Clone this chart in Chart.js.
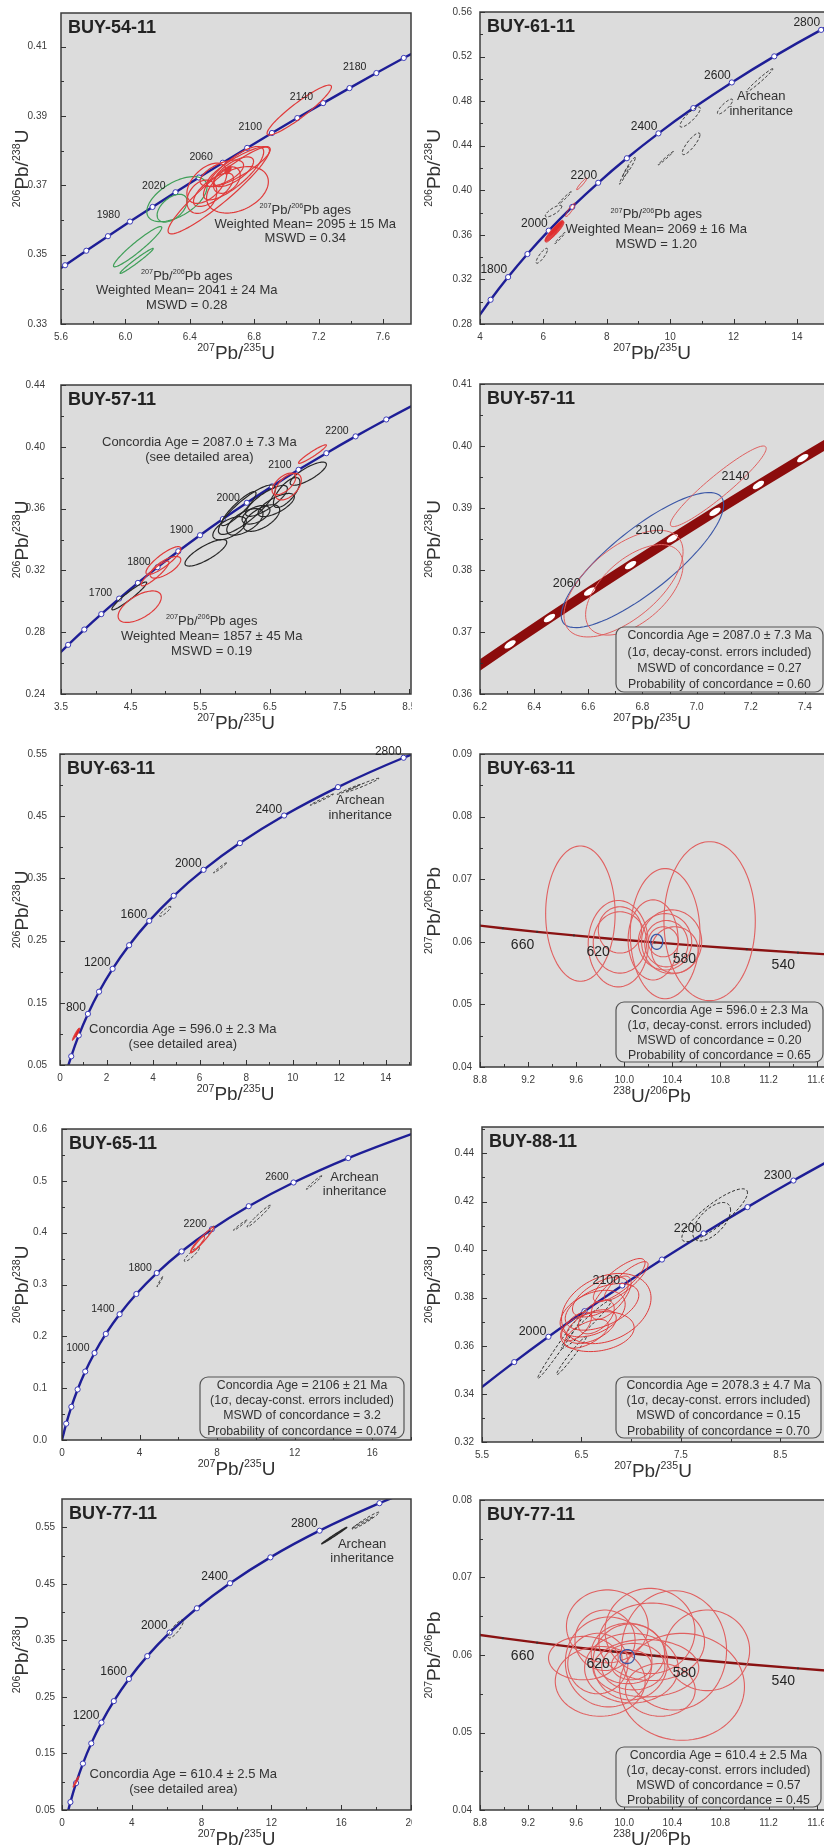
<!DOCTYPE html>
<html>
<head>
<meta charset="utf-8">
<title>U-Pb concordia diagrams</title>
<script src="https://cdn.jsdelivr.net/npm/chart.js@4.4.1/dist/chart.umd.min.js"></script>
<style>
  html, body { margin: 0; padding: 0; background: #fff; }
  body { position: relative; width: 824px; height: 1847px; overflow: hidden; }
  canvas { position: absolute; }
</style>
</head>
<body>
<script>
// concordia marker ages (Ma) and the ratios
const ages20 = [1900, 1920, 1940, 1960, 1980, 2000, 2020, 2040, 2060, 2080, 2100, 2120, 2140, 2160, 2180, 2200, 2220];
const x20 = [5.4962, 5.6254, 5.7572, 5.8916, 6.0287, 6.1685, 6.3111, 6.4566, 6.6049, 6.7562, 6.9104, 7.0678, 7.2283, 7.3920, 7.5589, 7.7291, 7.9028];
const y20 = [0.34277, 0.34695, 0.35113, 0.35533, 0.35954, 0.36376, 0.36800, 0.37225, 0.37652, 0.38079, 0.38509, 0.38939, 0.39371, 0.39804, 0.40238, 0.40674, 0.41111];

const ages50 = [1500, 1550, 1600, 1650, 1700, 1750, 1800, 1850, 1900, 1950, 2000, 2050, 2100, 2150, 2200, 2250, 2300, 2350];
const x50 = [3.3810, 3.6021, 3.8344, 4.0784, 4.3348, 4.6040, 4.8869, 5.1840, 5.4962, 5.8241, 6.1685, 6.5304, 6.9104, 7.3097, 7.7292, 8.1698, 8.6326, 9.1188];
const y50 = [0.26199, 0.27181, 0.28172, 0.29170, 0.30175, 0.31189, 0.32210, 0.33240, 0.34277, 0.35323, 0.36376, 0.37438, 0.38509, 0.39587, 0.40674, 0.41769, 0.42873, 0.43986];

const ages100 = [1600, 1700, 1800, 1900, 2000, 2100, 2200, 2300, 2400, 2500, 2600, 2700, 2800, 2900];
const x100 = [3.8344, 4.3348, 4.8869, 5.4962, 6.1685, 6.9104, 7.7292, 8.6326, 9.6296, 10.7297, 11.9437, 13.2834, 14.7617, 16.3930];
const y100 = [0.28172, 0.30175, 0.32210, 0.34277, 0.36376, 0.38509, 0.40674, 0.42873, 0.45107, 0.47375, 0.49679, 0.52019, 0.54395, 0.56809];

const ages200 = [0, 200, 400, 600, 800, 1000, 1200, 1400, 1600, 1800, 2000, 2200, 2400, 2600, 2800, 3000, 3100];
const x200 = [0, 0.2177, 0.4828, 0.8056, 1.1987, 1.6774, 2.2603, 2.9701, 3.8344, 4.8869, 6.1685, 7.7292, 9.6296, 11.9437, 14.7617, 18.1931, 20.1795];
const y200 = [0, 0.03151, 0.06402, 0.09754, 0.13213, 0.16781, 0.20460, 0.24256, 0.28172, 0.32210, 0.36376, 0.40674, 0.45107, 0.49679, 0.54395, 0.59260, 0.61750];

// Tera-Wasserburg concordia (238U/206Pb vs 207Pb/206Pb)
const agesTW = [720, 700, 680, 660, 640, 620, 600, 580, 560, 540, 520, 500];
const xTW = [8.4627, 8.7183, 8.9889, 9.2758, 9.5808, 9.9055, 10.2518, 10.6220, 11.0187, 11.4448, 11.9036, 12.3993];
const yTW = [0.063350, 0.062757, 0.062171, 0.061593, 0.061022, 0.060458, 0.059901, 0.059351, 0.058808, 0.058272, 0.057742, 0.057219];

// error ellipses: [centre x, centre y, half width x, half height y, rho]
const p1Green = [[6.32, 0.3660, 0.187, 0.0065, 0.55], [6.29, 0.3634, 0.093, 0.0040, 0.5], [6.076, 0.3523, 0.150, 0.0058, 0.95], [6.07, 0.3482, 0.103, 0.0036, 0.98]];
const p1Red = [[6.696, 0.3687, 0.192, 0.0067, 0.35], [7.08, 0.3917, 0.20, 0.0072, 0.93], [6.58, 0.3685, 0.315, 0.0125, 0.93],
  [6.506, 0.3706, 0.124, 0.0058, 0.5], [6.599, 0.3735, 0.135, 0.0038, 0.6], [6.63, 0.3715, 0.083, 0.0038, 0.4],
  [6.672, 0.3735, 0.187, 0.0077, 0.8], [6.475, 0.3667, 0.093, 0.0048, 0.3], [6.703, 0.3754, 0.197, 0.0058, 0.85],
  [6.547, 0.3687, 0.124, 0.0048, 0.7], [6.672, 0.3739, 0.124, 0.0043, 0.7]];
const p1RedFill = [[6.637, 0.3744, 0.02, 0.0012, 0.5]];

const p2Red = [[7.21, 0.4057, 0.16, 0.0052, 0.95], [6.85, 0.3824, 0.15, 0.0060, 0.9], [6.24, 0.3594, 0.18, 0.0060, 0.85]];
const p2RedFill = [[6.35, 0.3631, 0.30, 0.0090, 0.9], [6.40, 0.3660, 0.22, 0.0070, 0.92]];
const p2Dash = [[6.32, 0.3813, 0.26, 0.0052, 0.8], [6.68, 0.3932, 0.20, 0.0055, 0.98], [6.52, 0.3571, 0.16, 0.0050, 0.98],
  [5.95, 0.3412, 0.18, 0.0067, 0.85], [8.70, 0.4205, 0.20, 0.0090, 0.95], [8.55, 0.4135, 0.15, 0.0080, 0.97],
  [9.86, 0.4288, 0.24, 0.0060, 0.99], [10.66, 0.4417, 0.28, 0.0097, 0.85], [10.63, 0.4657, 0.32, 0.0090, 0.85],
  [11.73, 0.4751, 0.24, 0.0067, 0.85], [12.82, 0.4986, 0.42, 0.0105, 0.98]];

const p3Black = [[4.48, 0.3035, 0.25, 0.0090, 0.95], [5.58, 0.3314, 0.30, 0.0086, 0.8], [6.17, 0.3593, 0.41, 0.0160, 0.85],
  [6.14, 0.3514, 0.26, 0.0086, 0.6], [6.38, 0.3539, 0.26, 0.0086, 0.6], [6.59, 0.3623, 0.26, 0.0075, 0.7],
  [5.92, 0.3473, 0.24, 0.0075, 0.6], [6.74, 0.3704, 0.19, 0.0097, 0.7], [7.05, 0.3826, 0.26, 0.0075, 0.8],
  [6.30, 0.3560, 0.20, 0.0060, 0.5], [6.05, 0.3600, 0.25, 0.0110, 0.9], [6.45, 0.3650, 0.30, 0.0100, 0.8]];
const p3Red = [[7.11, 0.3953, 0.20, 0.0060, 0.95], [6.76, 0.3742, 0.19, 0.0086, 0.5], [6.70, 0.3760, 0.17, 0.0070, 0.6],
  [4.97, 0.3264, 0.25, 0.0090, 0.85], [5.00, 0.3220, 0.22, 0.0070, 0.7], [4.85, 0.3180, 0.20, 0.0080, 0.9],
  [4.63, 0.2965, 0.31, 0.0102, 0.6]];

const p4Blue = [[6.80, 0.3816, 0.30, 0.0109, 0.82]];
const p4Red = [[7.08, 0.3935, 0.177, 0.0065, 0.94], [6.73, 0.3778, 0.22, 0.0086, 0.6], [6.77, 0.3768, 0.18, 0.0073, 0.55]];

const p5RedFill = [[0.68, 0.0995, 0.15, 0.0100, 0.95], [0.75, 0.1020, 0.10, 0.0070, 0.9]];
const p5Dash = [[6.88, 0.367, 0.28, 0.0082, 0.98], [4.52, 0.297, 0.24, 0.0080, 0.9], [13.0, 0.500, 0.7, 0.011, 0.98],
  [11.25, 0.4767, 0.5, 0.009, 0.99], [12.4, 0.493, 0.5, 0.008, 0.99]];

const p6Red = [[9.635, 0.0645, 0.289, 0.0108, 0], [10.71, 0.0633, 0.38, 0.0127, 0], [10.34, 0.0613, 0.29, 0.0104, 0],
  [9.95, 0.0597, 0.25, 0.0069, 0], [9.964, 0.0599, 0.222, 0.0049, 0], [10.339, 0.0600, 0.222, 0.0045, 0],
  [10.35, 0.0597, 0.18, 0.0037, 0], [10.325, 0.0600, 0.125, 0.0024, 0], [10.394, 0.0600, 0.25, 0.0051, 0],
  [10.24, 0.0603, 0.208, 0.0064, 0], [10.42, 0.0587, 0.194, 0.0037, 0], [9.964, 0.0619, 0.18, 0.0037, 0]];
const p6Blue = [[10.27, 0.0600, 0.05, 0.0012, 0]];

const p7Red = [[7.23, 0.386, 0.6, 0.025, 0.97], [7.0, 0.378, 0.35, 0.015, 0.9]];
const p7Dash = [[6.7, 0.3585, 0.39, 0.014, 0.9], [5.05, 0.3055, 0.15, 0.010, 0.98], [9.2, 0.4145, 0.35, 0.010, 0.98],
  [10.15, 0.432, 0.6, 0.021, 0.98], [13.0, 0.4968, 0.4, 0.013, 0.98], [7.7, 0.405, 0.15, 0.008, 0.95]];

const p8Red = [[6.75, 0.3755, 0.45, 0.0146, 0.3], [6.88, 0.3873, 0.26, 0.0090, 0.8], [6.66, 0.3659, 0.37, 0.0083, 0.2],
  [6.613, 0.3734, 0.327, 0.0097, 0.4], [6.707, 0.3762, 0.37, 0.0097, 0.5], [6.69, 0.3803, 0.28, 0.0083, 0.6],
  [6.60, 0.3680, 0.25, 0.0070, 0.5], [6.80, 0.3800, 0.20, 0.0090, 0.7], [6.55, 0.3650, 0.22, 0.0060, 0.6],
  [6.65, 0.3720, 0.18, 0.0070, 0.5], [6.95, 0.3870, 0.22, 0.0080, 0.85], [6.45, 0.3680, 0.15, 0.0060, 0.6]];
const p8Dash = [[6.30, 0.3606, 0.24, 0.0142, 0.99], [6.55, 0.3690, 0.25, 0.0100, 0.97], [7.84, 0.4143, 0.33, 0.0110, 0.85],
  [7.81, 0.4116, 0.19, 0.0080, 0.6], [6.40, 0.3560, 0.15, 0.0080, 0.98]];

const p9RedFill = [[0.8, 0.100, 0.17, 0.010, 0.95]];
const p9Dash = [[6.52, 0.370, 0.43, 0.016, 0.85], [17.4, 0.5617, 0.77, 0.015, 0.97], [17.2, 0.558, 0.6, 0.010, 0.99]];
const p9Solid = [[15.6, 0.5353, 0.72, 0.0146, 0.995]];

const p10Red = [[9.859, 0.0637, 0.34, 0.0047, 0], [10.214, 0.0631, 0.374, 0.0055, 0], [10.414, 0.0606, 0.437, 0.0077, 0],
  [10.69, 0.0606, 0.353, 0.0052, 0], [10.48, 0.0559, 0.52, 0.0069, 0], [9.66, 0.0596, 0.29, 0.0028, 0],
  [9.80, 0.0566, 0.374, 0.0045, 0], [9.87, 0.0591, 0.36, 0.0058, 0], [10.06, 0.0583, 0.39, 0.0045, 0],
  [10.05, 0.0591, 0.31, 0.0049, 0], [10.18, 0.0583, 0.44, 0.0037, 0], [10.075, 0.0585, 0.263, 0.0030, 0],
  [10.06, 0.0587, 0.166, 0.0019, 0], [9.84, 0.0619, 0.25, 0.0039, 0], [10.03, 0.0602, 0.305, 0.0039, 0],
  [9.78, 0.0589, 0.25, 0.0039, 0], [10.228, 0.0617, 0.44, 0.0050, 0], [10.30, 0.0555, 0.29, 0.0034, 0]];
const p10Blue = [[10.025, 0.0598, 0.06, 0.0009, 0]];

// tick labels
const p1XTicks = [5.6, 6.0, 6.4, 6.8, 7.2, 7.6], p1YTicks = [0.33, 0.35, 0.37, 0.39, 0.41];
const p2XTicks = [4, 6, 8, 10, 12, 14], p2YTicks = [0.28, 0.32, 0.36, 0.40, 0.44, 0.48, 0.52, 0.56];
const p3XTicks = [3.5, 4.5, 5.5, 6.5, 7.5, 8.5], p3YTicks = [0.24, 0.28, 0.32, 0.36, 0.40, 0.44];
const p4XTicks = [6.2, 6.4, 6.6, 6.8, 7.0, 7.2, 7.4], p4YTicks = [0.36, 0.37, 0.38, 0.39, 0.40, 0.41];
const p5XTicks = [0, 2, 4, 6, 8, 10, 12, 14], p5YTicks = [0.05, 0.15, 0.25, 0.35, 0.45, 0.55];
const twXTicks = [8.8, 9.2, 9.6, 10.0, 10.4, 10.8, 11.2, 11.6];
const p6YTicks = [0.04, 0.05, 0.06, 0.07, 0.08, 0.09];
const p7XTicks = [0, 4, 8, 12, 16], p7YTicks = [0.0, 0.1, 0.2, 0.3, 0.4, 0.5, 0.6];
const p8XTicks = [5.5, 6.5, 7.5, 8.5], p8YTicks = [0.32, 0.34, 0.36, 0.38, 0.40, 0.42, 0.44];
const p9XTicks = [0, 4, 8, 12, 16, 20], p9YTicks = [0.05, 0.15, 0.25, 0.35, 0.45, 0.55];
const p10YTicks = [0.04, 0.05, 0.06, 0.07, 0.08];

const FONT = '"Liberation Sans", Arial, Helvetica, sans-serif';
const BG = '#dcdcdc';
const RED = '#e03a3a', PINK = '#e06060', GREEN = '#3f9f58', DARK = '#262626', BLUE = '#3a56a6';
const WET_X = '{207}Pb/{235}U', WET_Y = '{206}Pb/{238}U', TW_X = '{238}U/{206}Pb', TW_Y = '{207}Pb/{206}Pb';
const BOX2 = '(1\u03c3, decay-const. errors included)';

const panels = [
  { left: 0, top: 0, w: 412, plot: [61, 13, 411, 324], x: [5.6, 7.774], y: [0.33, 0.4197],
    xt: p1XTicks, yt: p1YTicks, xd: 1, yd: 2, ypad: 14, title: 'BUY-54-11', xTitle: WET_X, yTitle: WET_Y,
    curve: { ages: ages20, x: x20, y: y20, kind: 'blue', show: [1920, 2200],
      labels: [1980, 2020, 2060, 2100, 2140, 2180], size: 10.5, dx: -10, dy: -6 },
    ells: [{ d: p1Green, c: GREEN, w: 1.2 }, { d: p1Red, c: RED, w: 1.2 }, { d: p1RedFill, c: RED, fill: RED }],
    texts: [
      { x: 7.117, y: 0.3629, s: '{207}Pb/{206}Pb ages' }, { x: 7.117, y: 0.3588, s: 'Weighted Mean= 2095 \u00b1 15 Ma' },
      { x: 7.117, y: 0.3547, s: 'MSWD = 0.34' }, { x: 6.381, y: 0.3438, s: '{207}Pb/{206}Pb ages' },
      { x: 6.381, y: 0.3396, s: 'Weighted Mean= 2041 \u00b1 24 Ma' }, { x: 6.381, y: 0.3355, s: 'MSWD = 0.28' }] },
  { left: 412, top: 0, w: 420, plot: [68, 12, 420, 324], x: [4, 15.105], y: [0.28, 0.56],
    xt: p2XTicks, yt: p2YTicks, xd: 0, yd: 2, ypad: 8, title: 'BUY-61-11', xTitle: WET_X, yTitle: WET_Y,
    curve: { ages: ages100, x: x100, y: y100, kind: 'blue', show: [1700, 2800],
      labels: [1800, 2000, 2200, 2400, 2600, 2800], size: 12, dx: -1, dy: -7 },
    ells: [{ d: p2Dash, c: DARK, dash: true }, { d: p2Red, c: RED }, { d: p2RedFill, c: RED, fill: 'rgba(225,40,40,0.85)' }],
    texts: [
      { x: 12.874, y: 0.4843, s: 'Archean' }, { x: 12.874, y: 0.4708, s: 'inheritance' },
      { x: 9.56, y: 0.3779, s: '{207}Pb/{206}Pb ages' }, { x: 9.56, y: 0.3645, s: 'Weighted Mean= 2069 \u00b1 16 Ma' },
      { x: 9.56, y: 0.3510, s: 'MSWD = 1.20' }] },
  { left: 0, top: 370, w: 412, plot: [61, 15, 411, 324], x: [3.5, 8.525], y: [0.24, 0.44],
    xt: p3XTicks, yt: p3YTicks, xd: 1, yd: 2, ypad: 16, title: 'BUY-57-11', xTitle: WET_X, yTitle: WET_Y,
    curve: { ages: ages50, x: x50, y: y50, kind: 'blue', show: [1550, 2250],
      labels: [1700, 1800, 1900, 2000, 2100, 2200], size: 10.5, dx: -7, dy: -5 },
    ells: [{ d: p3Black, c: DARK, w: 1.2 }, { d: p3Red, c: RED, w: 1.2 }],
    texts: [
      { x: 5.486, y: 0.4027, s: 'Concordia Age = 2087.0 \u00b1 7.3 Ma' }, { x: 5.486, y: 0.3932, s: '(see detailed area)' },
      { x: 5.663, y: 0.2868, s: '{207}Pb/{206}Pb ages' }, { x: 5.663, y: 0.2771, s: 'Weighted Mean= 1857 \u00b1 45 Ma' },
      { x: 5.663, y: 0.2678, s: 'MSWD = 0.19' }] },
  { left: 412, top: 370, w: 420, plot: [68, 14, 420, 324], x: [6.2, 7.5], y: [0.36, 0.41],
    xt: p4XTicks, yt: p4YTicks, xd: 1, yd: 2, ypad: 8, title: 'BUY-57-11', xTitle: WET_X, yTitle: WET_Y,
    curve: { ages: ages20, x: x20, y: y20, kind: 'band', show: [2020, 2160],
      labels: [2060, 2100, 2140], size: 12.5, dx: -9, dy: -8 },
    ells: [{ d: p4Blue, c: BLUE, w: 1.1 }, { d: p4Red, c: PINK, w: 1 }],
    texts: [],
    box: { l: 204, t: 257, w: 207, h: 65, lines: ['Concordia Age = 2087.0 \u00b1 7.3 Ma', BOX2, 'MSWD of concordance = 0.27', 'Probability of concordance = 0.60'] } },
  { left: 0, top: 740, w: 412, plot: [60, 14, 411, 325], x: [0, 15.08], y: [0.05, 0.55],
    xt: p5XTicks, yt: p5YTicks, xd: 0, yd: 2, ypad: 13, title: 'BUY-63-11', xTitle: WET_X, yTitle: WET_Y,
    curve: { ages: ages200, x: x200, y: y200, kind: 'blue', show: [400, 2800],
      labels: [800, 1200, 1600, 2000, 2400, 2800], size: 12, dx: -2, dy: -6 },
    ells: [{ d: p5Dash, c: DARK, dash: true }, { d: p5RedFill, c: RED, fill: 'rgba(225,30,30,0.9)' }],
    texts: [
      { x: 5.276, y: 0.1065, s: 'Concordia Age = 596.0 \u00b1 2.3 Ma' }, { x: 5.276, y: 0.0823, s: '(see detailed area)' },
      { x: 12.9, y: 0.4747, s: 'Archean' }, { x: 12.9, y: 0.4516, s: 'inheritance' }] },
  { left: 412, top: 740, w: 420, plot: [68, 14, 420, 327], x: [8.8, 11.728], y: [0.04, 0.09],
    xt: twXTicks, yt: p6YTicks, xd: 1, yd: 2, ypad: 8, title: 'BUY-63-11', xTitle: TW_X, yTitle: TW_Y,
    curve: { ages: agesTW, x: xTW, y: yTW, kind: 'tw', show: [540, 680],
      labels: [660, 620, 580, 540], size: 14, dx: -3, dy: 13 },
    ells: [{ d: p6Red, c: PINK, w: 1.1 }, { d: p6Blue, c: BLUE, w: 1.3 }],
    texts: [],
    box: { l: 204, t: 262, w: 207, h: 60, lines: ['Concordia Age = 596.0 \u00b1 2.3 Ma', BOX2, 'MSWD of concordance = 0.20', 'Probability of concordance = 0.65'] } },
  { left: 0, top: 1110, w: 412, plot: [62, 19, 411, 330], x: [0, 18], y: [0, 0.6],
    xt: p7XTicks, yt: p7YTicks, xd: 0, yd: 1, ypad: 15, title: 'BUY-65-11', xTitle: WET_X, yTitle: WET_Y,
    curve: { ages: ages200, x: x200, y: y200, kind: 'blue', show: [200, 2800],
      labels: [1000, 1400, 1800, 2200, 2600], size: 10.5, dx: -5, dy: -5 },
    ells: [{ d: p7Dash, c: DARK, dash: true }, { d: p7Red, c: RED, w: 1.2 }],
    texts: [{ x: 15.09, y: 0.5068, s: 'Archean' }, { x: 15.09, y: 0.479, s: 'inheritance' }],
    box: { l: 200, t: 267, w: 204, h: 61, lines: ['Concordia Age = 2106 \u00b1 21 Ma', BOX2, 'MSWD of concordance = 3.2', 'Probability of concordance = 0.074'] } },
  { left: 412, top: 1110, w: 420, plot: [70, 17, 420, 332], x: [5.5, 9.02], y: [0.32, 0.451],
    xt: p8XTicks, yt: p8YTicks, xd: 1, yd: 2, ypad: 8, title: 'BUY-88-11', xTitle: WET_X, yTitle: WET_Y,
    curve: { ages: ages50, x: x50, y: y50, kind: 'blue', show: [1950, 2300],
      labels: [2000, 2100, 2200, 2300], size: 12.5, dx: -2, dy: -5 },
    ells: [{ d: p8Dash, c: DARK, dash: true }, { d: p8Red, c: RED, w: 1 }],
    texts: [],
    box: { l: 204, t: 267, w: 205, h: 61, lines: ['Concordia Age = 2078.3 \u00b1 4.7 Ma', BOX2, 'MSWD of concordance = 0.15', 'Probability of concordance = 0.70'] } },
  { left: 0, top: 1477, w: 412, plot: [62, 22, 411, 333], x: [0, 20], y: [0.05, 0.6],
    xt: p9XTicks, yt: p9YTicks, xd: 0, yd: 2, ypad: 7, title: 'BUY-77-11', xTitle: WET_X, yTitle: WET_Y,
    curve: { ages: ages200, x: x200, y: y200, kind: 'blue', show: [400, 3000],
      labels: [1200, 1600, 2000, 2400, 2800], size: 12, dx: -2, dy: -7 },
    ells: [{ d: p9Dash, c: DARK, dash: true }, { d: p9Solid, c: DARK, w: 1.3 }, { d: p9RedFill, c: RED, fill: 'rgba(225,30,30,0.9)' }],
    texts: [
      { x: 6.954, y: 0.1121, s: 'Concordia Age = 610.4 \u00b1 2.5 Ma' }, { x: 6.954, y: 0.0858, s: '(see detailed area)' },
      { x: 17.2, y: 0.5195, s: 'Archean' }, { x: 17.2, y: 0.4943, s: 'inheritance' }] },
  { left: 412, top: 1477, w: 420, plot: [68, 23, 420, 333], x: [8.8, 11.728], y: [0.04, 0.08],
    xt: twXTicks, yt: p10YTicks, xd: 1, yd: 2, ypad: 8, title: 'BUY-77-11', xTitle: TW_X, yTitle: TW_Y,
    curve: { ages: agesTW, x: xTW, y: yTW, kind: 'tw', show: [540, 680],
      labels: [660, 620, 580, 540], size: 14, dx: -3, dy: 13 },
    ells: [{ d: p10Red, c: PINK, w: 1.1 }, { d: p10Blue, c: BLUE, w: 1.3 }],
    texts: [],
    box: { l: 204, t: 270, w: 205, h: 60, lines: ['Concordia Age = 610.4 \u00b1 2.5 Ma', BOX2, 'MSWD of concordance = 0.57', 'Probability of concordance = 0.45'] } }
];

function font(size, bold) {
  return (bold ? 'bold ' : '') + size + 'px ' + FONT;
}

// text with {superscript} parts
function drawRich(ctx, s, x, y, size, align, color) {
  const parts = s.split(/(\{[^}]*\})/).filter(Boolean).map(t =>
    t[0] === '{' ? { t: t.slice(1, -1), sup: true } : { t: t, sup: false });
  let w = 0;
  parts.forEach(p => {
    ctx.font = font(p.sup ? size * 0.56 : size);
    p.w = ctx.measureText(p.t).width;
    w += p.w;
  });
  let cx = align === 'right' ? x - w : align === 'left' ? x : x - w / 2;
  ctx.fillStyle = color;
  ctx.textAlign = 'left';
  ctx.textBaseline = 'middle';
  parts.forEach(p => {
    ctx.font = font(p.sup ? size * 0.56 : size);
    ctx.fillText(p.t, cx, p.sup ? y - size * 0.33 : y);
    cx += p.w;
  });
}

function ellPath(ctx, xs, ys, e) {
  const [cx, cy, sx, sy, r] = e;
  const q = Math.sqrt(1 - r * r);
  ctx.beginPath();
  for (let i = 0; i <= 90; i++) {
    const t = i / 90 * Math.PI * 2;
    const px = xs.getPixelForValue(cx + sx * Math.cos(t));
    const py = ys.getPixelForValue(cy + sy * (r * Math.cos(t) + q * Math.sin(t)));
    if (i) ctx.lineTo(px, py); else ctx.moveTo(px, py);
  }
  ctx.closePath();
}

function withMinor(arr, lo, hi) {
  const step = arr[1] - arr[0];
  const out = [];
  if (arr[0] - step / 2 >= lo) out.push([arr[0] - step / 2, 3]);
  arr.forEach((v, i) => {
    out.push([v, 5]);
    const m = i < arr.length - 1 ? (v + arr[i + 1]) / 2 : v + step / 2;
    if (m <= hi) out.push([m, 3]);
  });
  return out;
}

function makePlugin(p) {
  return {
    id: 'conc',
    beforeDraw(ch) {
      const a = ch.chartArea, ctx = ch.ctx;
      ctx.save();
      ctx.fillStyle = BG;
      ctx.fillRect(a.left, a.top, a.right - a.left, a.bottom - a.top);
      ctx.restore();
    },
    afterDatasetsDraw(ch) {
      const ctx = ch.ctx, a = ch.chartArea, xs = ch.scales.x, ys = ch.scales.y;
      const c = p.curve, pts = ch.getDatasetMeta(0).data;
      ctx.save();
      ctx.beginPath();
      ctx.rect(a.left, a.top, a.right - a.left, a.bottom - a.top);
      ctx.clip();
      // concordia band markers (detail plot)
      if (c.kind === 'band') {
        const i0 = c.ages.indexOf(c.show[0]), i1 = c.ages.indexOf(c.show[1]);
        const ang = Math.atan2(pts[i1].y - pts[i0].y, pts[i1].x - pts[i0].x);
        for (let i = i0; i <= i1; i++) {
          ctx.save();
          ctx.translate(pts[i].x, pts[i].y);
          ctx.rotate(ang);
          ctx.beginPath();
          ctx.ellipse(0, 0, 6.5, 2.8, 0, 0, Math.PI * 2);
          ctx.fillStyle = '#fff';
          ctx.fill();
          ctx.restore();
        }
      }
      p.ells.forEach(g => {
        ctx.strokeStyle = g.c;
        ctx.lineWidth = g.w || 1;
        ctx.setLineDash(g.dash ? [3, 2] : []);
        g.d.forEach(e => {
          ellPath(ctx, xs, ys, e);
          if (g.fill) { ctx.fillStyle = g.fill; ctx.fill(); }
          ctx.stroke();
        });
      });
      ctx.restore();
    },
    afterDraw(ch) {
      const ctx = ch.ctx, a = ch.chartArea, xs = ch.scales.x, ys = ch.scales.y;
      const c = p.curve, pts = ch.getDatasetMeta(0).data;
      ctx.save();
      // frame
      ctx.strokeStyle = '#3c3c3c';
      ctx.lineWidth = 1.5;
      ctx.strokeRect(a.left, a.top, a.right - a.left, a.bottom - a.top);
      // inner tick marks
      ctx.lineWidth = 1;
      ctx.strokeStyle = '#333';
      ctx.beginPath();
      withMinor(p.xt, p.x[0], p.x[1]).forEach(([v, len]) => {
        const px = Math.round(xs.getPixelForValue(v)) + 0.5;
        ctx.moveTo(px, a.bottom); ctx.lineTo(px, a.bottom - len);
      });
      withMinor(p.yt, p.y[0], p.y[1]).forEach(([v, len]) => {
        const py = Math.round(ys.getPixelForValue(v)) + 0.5;
        ctx.moveTo(a.left, py); ctx.lineTo(a.left + len, py);
      });
      ctx.stroke();
      // age labels along the concordia
      ctx.fillStyle = '#262626';
      ctx.font = font(c.size);
      ctx.textAlign = 'right';
      ctx.textBaseline = 'middle';
      c.labels.forEach(age => {
        const pt = pts[c.ages.indexOf(age)];
        ctx.fillText(String(age), pt.x + c.dx, pt.y + c.dy);
      });
      // free texts
      p.texts.forEach(t => drawRich(ctx, t.s, xs.getPixelForValue(t.x), ys.getPixelForValue(t.y), 13, 'center', '#333'));
      // result box
      if (p.box) {
        const b = p.box, r = 8;
        ctx.beginPath();
        ctx.moveTo(b.l + r, b.t);
        ctx.arcTo(b.l + b.w, b.t, b.l + b.w, b.t + b.h, r);
        ctx.arcTo(b.l + b.w, b.t + b.h, b.l, b.t + b.h, r);
        ctx.arcTo(b.l, b.t + b.h, b.l, b.t, r);
        ctx.arcTo(b.l, b.t, b.l + b.w, b.t, r);
        ctx.closePath();
        ctx.fillStyle = '#dedede';
        ctx.fill();
        ctx.strokeStyle = '#555';
        ctx.lineWidth = 1.2;
        ctx.stroke();
        ctx.fillStyle = '#333';
        ctx.font = font(12.3);
        ctx.textAlign = 'center';
        b.lines.forEach((ln, i) => ctx.fillText(ln, b.l + b.w / 2, b.t + (i + 0.55) * b.h / 4));
      }
      // sample name
      ctx.fillStyle = '#222';
      ctx.font = font(18, true);
      ctx.textAlign = 'left';
      ctx.fillText(p.title, a.left + 7, a.top + 15);
      // axis titles
      const visRight = Math.min(a.right, 412);
      drawRich(ctx, p.xTitle, (a.left + visRight) / 2, a.bottom + 30, 19, 'center', '#333');
      ctx.save();
      ctx.translate(23, (a.top + a.bottom) / 2);
      ctx.rotate(-Math.PI / 2);
      drawRich(ctx, p.yTitle, 0, 0, 19, 'center', '#333');
      ctx.restore();
      ctx.restore();
    }
  };
}

function build(p) {
  const H = 370;
  const cv = document.createElement('canvas');
  cv.width = p.w; cv.height = H;
  cv.style.left = p.left + 'px';
  cv.style.top = p.top + 'px';
  cv.style.width = p.w + 'px';
  cv.style.height = H + 'px';
  document.body.appendChild(cv);

  const [pl, pt, pr, pb] = p.plot;
  const c = p.curve;
  const shown = ctx => {
    const age = c.ages[ctx.dataIndex];
    return age >= c.show[0] && age <= c.show[1];
  };
  const ds = {
    data: c.x.map((v, i) => ({ x: v, y: c.y[i] })),
    showLine: true,
    tension: 0.4,
    cubicInterpolationMode: c.kind === 'tw' ? 'default' : 'monotone'
  };
  if (c.kind === 'blue') {
    Object.assign(ds, { borderColor: '#1e1e96', borderWidth: 2.4,
      pointRadius: ctx => shown(ctx) ? 2.6 : 0, pointBackgroundColor: '#fff',
      pointBorderColor: '#3a3ab8', pointBorderWidth: 1 });
  } else if (c.kind === 'band') {
    Object.assign(ds, { borderColor: '#8c0c0c', borderWidth: 9.5, pointRadius: 0 });
  } else {
    Object.assign(ds, { borderColor: '#8a1212', borderWidth: 2.4, tension: 0,
      pointStyle: 'rect', pointRadius: ctx => shown(ctx) ? 1.3 : 0,
      pointBackgroundColor: '#333', pointBorderWidth: 0 });
  }

  const tickFont = { family: FONT, size: 10 };
  new Chart(cv, {
    type: 'scatter',
    data: { datasets: [ds] },
    options: {
      responsive: false,
      animation: false,
      devicePixelRatio: 1,
      events: [],
      layout: { padding: { left: 0, top: pt, right: p.w - pr, bottom: 0 } },
      plugins: { legend: { display: false }, tooltip: { enabled: false } },
      scales: {
        x: {
          type: 'linear', min: p.x[0], max: p.x[1],
          grid: { display: false, drawTicks: false }, border: { display: false },
          ticks: { font: tickFont, color: '#3c3c3c', padding: 7, autoSkip: false, maxRotation: 0,
            callback: v => v.toFixed(p.xd) },
          afterBuildTicks: s => { s.ticks = p.xt.map(v => ({ value: v })); },
          afterFit: s => { s.height = H - pb; s.paddingLeft = 0; s.paddingRight = 0; }
        },
        y: {
          type: 'linear', min: p.y[0], max: p.y[1],
          grid: { display: false, drawTicks: false }, border: { display: false },
          ticks: { font: tickFont, color: '#3c3c3c', padding: p.ypad, autoSkip: false,
            callback: v => v.toFixed(p.yd) },
          afterBuildTicks: s => { s.ticks = p.yt.map(v => ({ value: v })); },
          afterFit: s => { s.width = pl; s.paddingTop = 0; s.paddingBottom = 0; }
        }
      }
    },
    plugins: [makePlugin(p)]
  });
}

panels.forEach(build);
</script>
</body>
</html>
